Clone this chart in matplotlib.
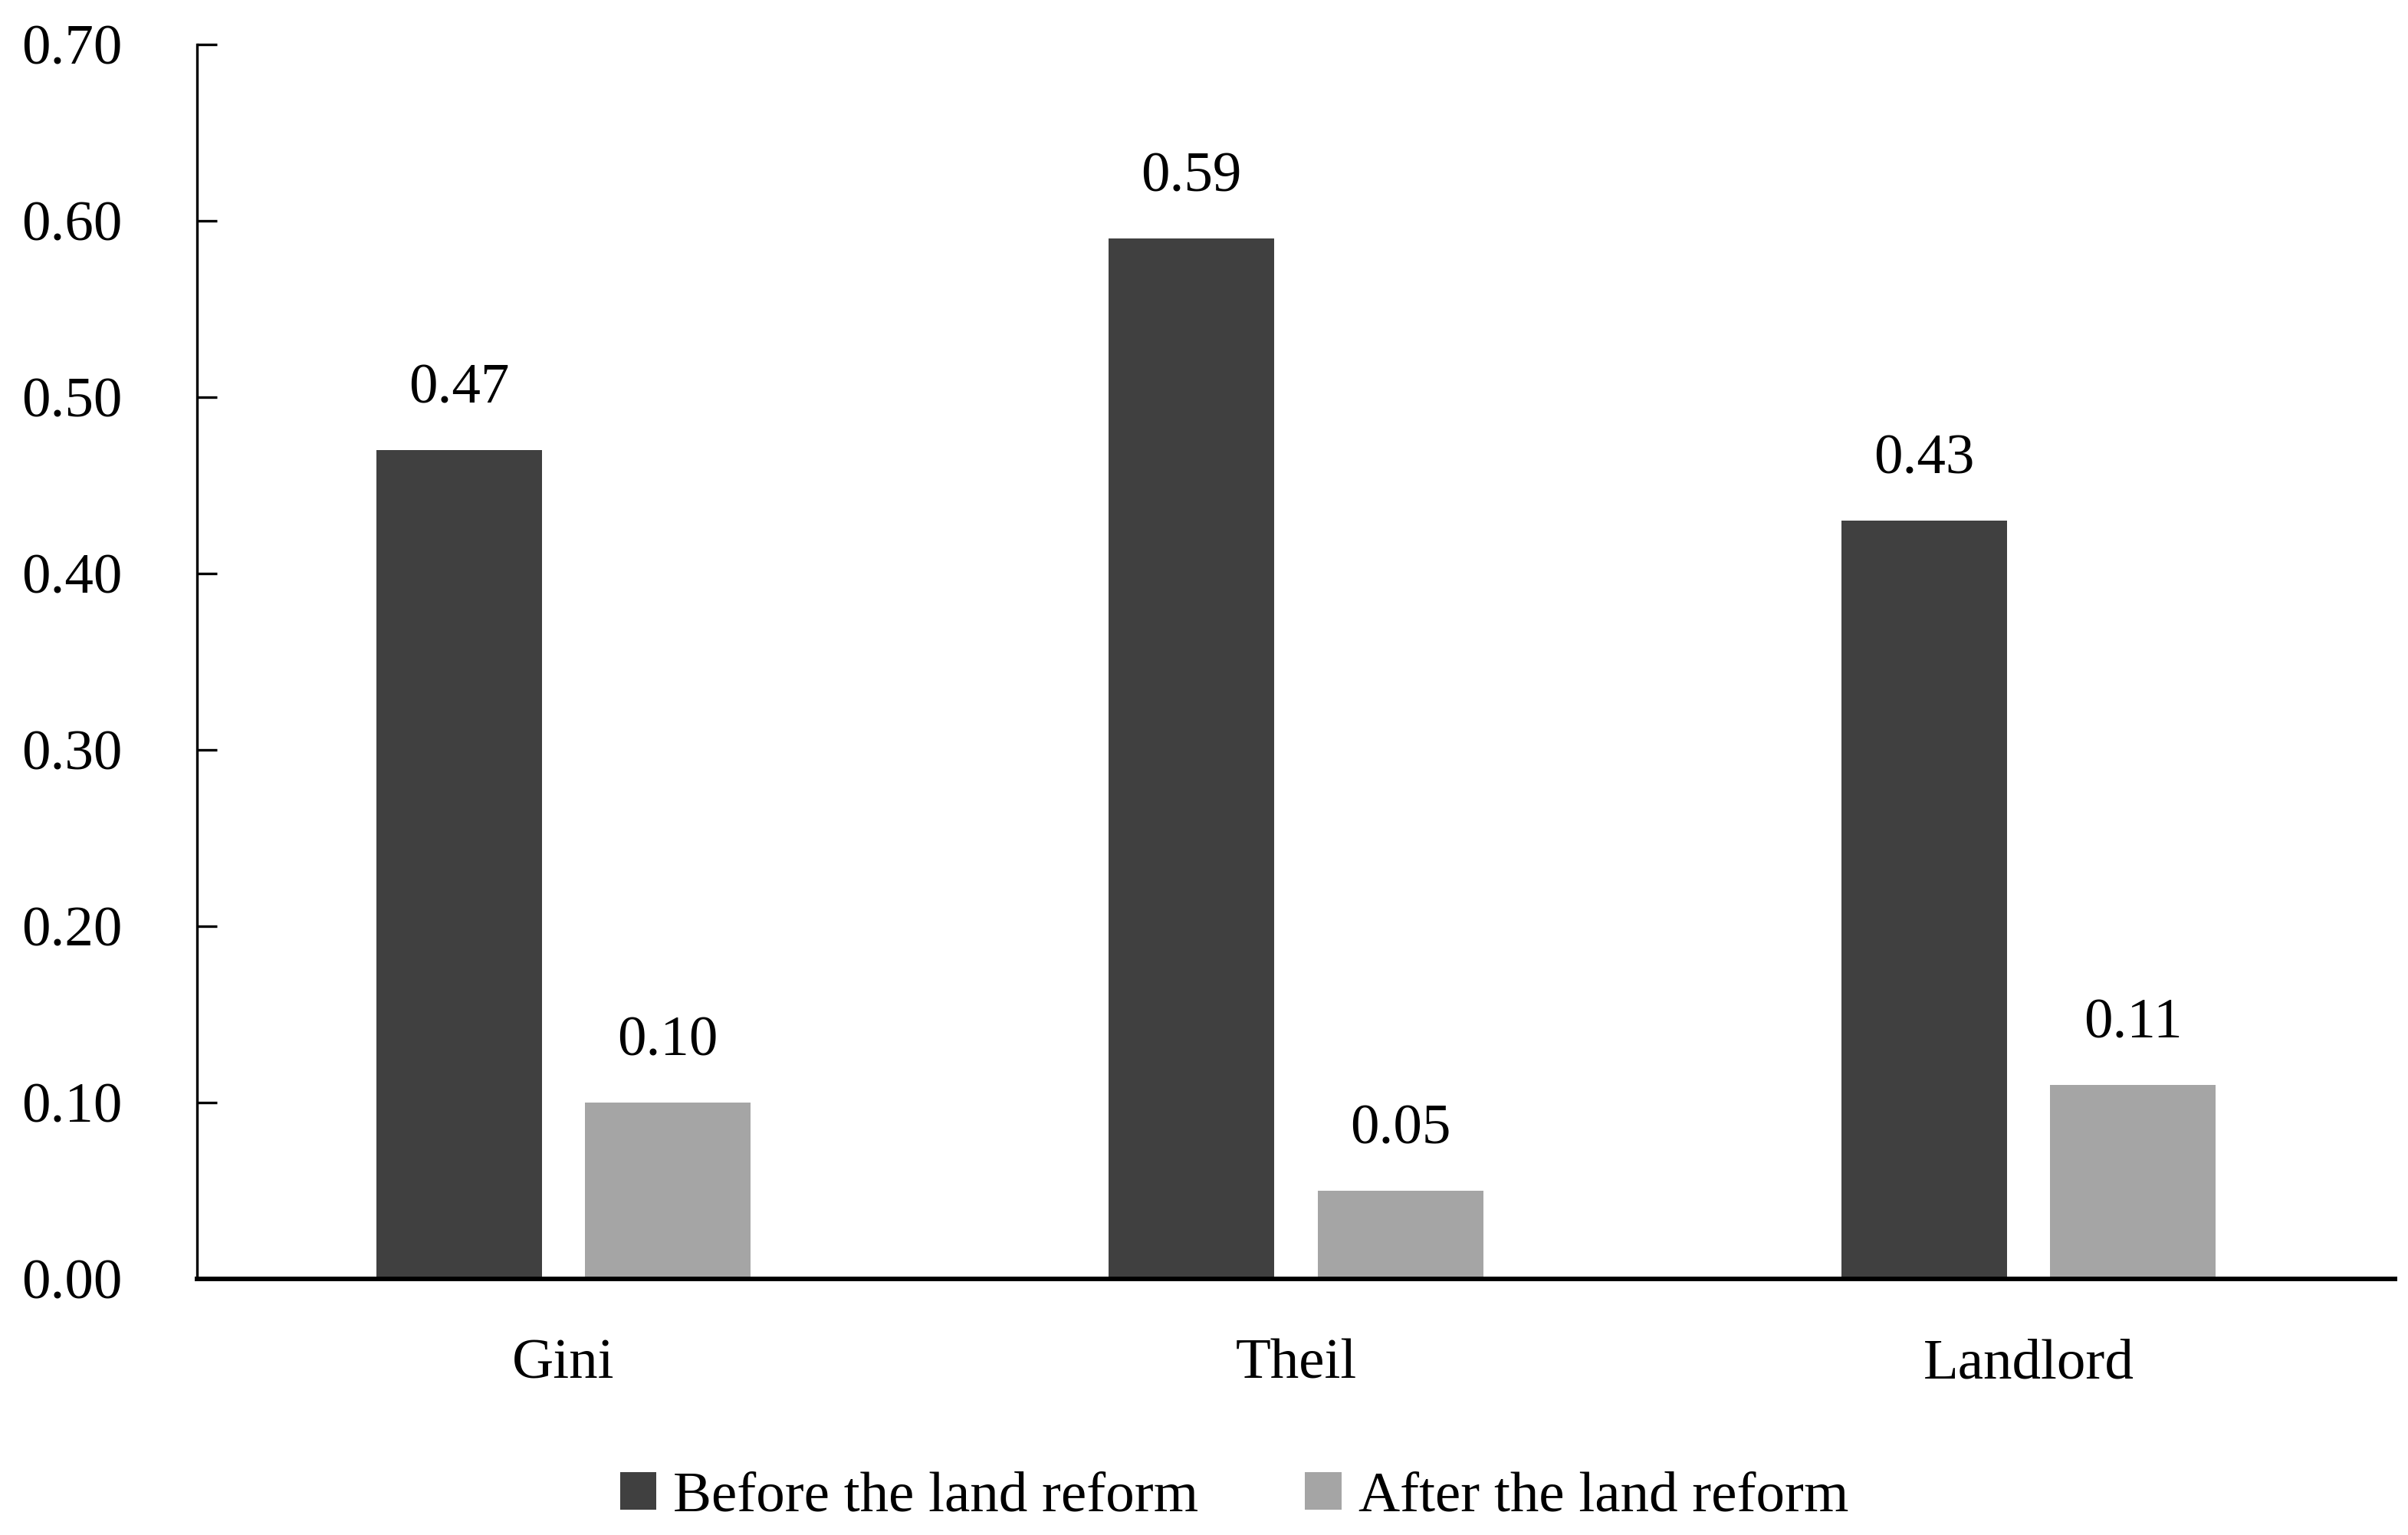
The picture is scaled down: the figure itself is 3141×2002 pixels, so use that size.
import numpy as np
import matplotlib
matplotlib.use("Agg")
import matplotlib.pyplot as plt

# data
categories = ["Gini", "Theil", "Landlord"]
before = [0.47, 0.59, 0.43]
after = [0.10, 0.05, 0.11]
series_names = ["Before the land reform", "After the land reform"]
yticks = [0.0, 0.1, 0.2, 0.3, 0.4, 0.5, 0.6, 0.7]

plt.rcParams['font.family'] = ['Liberation Serif', 'DejaVu Serif']
FS = 54

fig = plt.figure(figsize=(31.41, 20.02), dpi=100)
ax = fig.add_axes([0.0818, 0.1668, 0.9128, 0.8042])

x = np.arange(len(categories))
w = 0.226
off = 0.1425
b1 = ax.bar(x - off, before, w, color='#404040', label=series_names[0])
b2 = ax.bar(x + off, after, w, color='#A5A5A5', label=series_names[1])

# value labels above bars
for bars, vals in [(b1, before), (b2, after)]:
    for rect, v in zip(bars, vals):
        ax.annotate(f"{v:.2f}", (rect.get_x() + rect.get_width() / 2, v),
                    xytext=(0, 44), textcoords='offset points',
                    ha='center', va='baseline', fontsize=FS)

ax.set_xlim(-0.5, len(categories) - 0.5)
ax.set_ylim(0, 0.7)
ax.set_yticks(yticks)
ax.set_yticklabels([f"{t:.2f}" for t in yticks])
ax.set_xticks(x)
ax.set_xticklabels(categories)

ax.spines['top'].set_visible(False)
ax.spines['right'].set_visible(False)
ax.spines['left'].set_linewidth(2.4)
ax.spines['bottom'].set_linewidth(4.3)

ax.tick_params(axis='y', direction='in', length=18.7, width=2.4,
               pad=70, labelsize=FS)
ax.tick_params(axis='x', length=0, pad=56, labelsize=FS)

fig.legend(loc='center', bbox_to_anchor=(0.5126, 0.0245), ncol=2,
           frameon=False, fontsize=FS, handlelength=0.63, handleheight=0.63,
           handletextpad=0.3, columnspacing=1.85, borderpad=0, borderaxespad=0)

fig.savefig("out.png", dpi=100, facecolor='white')
